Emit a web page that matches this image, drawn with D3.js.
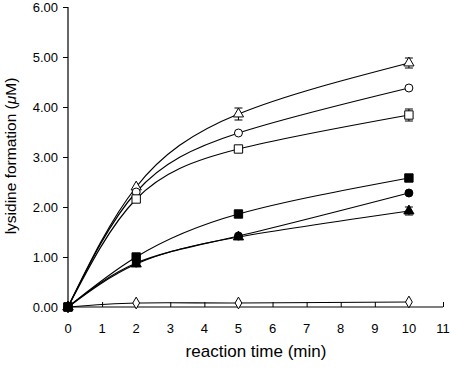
<!DOCTYPE html>
<html><head><meta charset="utf-8">
<script src="https://cdn.jsdelivr.net/npm/d3@7"></script>
<style>body{margin:0;background:#fff}svg{display:block}text{font-family:"Liberation Sans",Arial,sans-serif}</style>
</head><body><svg id="c" width="450" height="368"></svg>
<script>
const times = [0, 2, 5, 10];
const xTicks = [0,1,2,3,4,5,6,7,8,9,10,11];
const yTicks = [0,1,2,3,4,5,6];
const openTriangle = [0, 2.40, 3.86, 4.88];
const openTriangleErr = [0, 0.04, 0.12, 0.10];
const openCircle = [0, 2.30, 3.48, 4.38];
const openCircleErr = [0, 0.03, 0.04, 0.03];
const openSquare = [0, 2.16, 3.16, 3.84];
const openSquareErr = [0, 0.04, 0.04, 0.12];
const filledSquare = [0, 1.00, 1.86, 2.58];
const filledSquareErr = [0, 0.03, 0.03, 0.03];
const filledCircle = [0, 0.88, 1.42, 2.28];
const filledCircleErr = [0, 0.03, 0.03, 0.03];
const filledTriangle = [0, 0.86, 1.40, 1.92];
const filledTriangleErr = [0, 0.03, 0.04, 0.08];
const openDiamond = [0, 0.08, 0.08, 0.10];
const openDiamondErr = [0, 0.01, 0.01, 0.01];

const series = [
  {v: openDiamond, e: openDiamondErr, sym: d3.symbolDiamond, fill: "#fff", size: 40},
  {v: openTriangle, e: openTriangleErr, sym: d3.symbolTriangle, fill: "#fff", size: 45},
  {v: openCircle, e: openCircleErr, sym: d3.symbolCircle, fill: "#fff", size: 50},
  {v: openSquare, e: openSquareErr, sym: d3.symbolSquare, fill: "#fff", size: 70},
  {v: filledTriangle, e: filledTriangleErr, sym: d3.symbolTriangle, fill: "#000", size: 45},
  {v: filledCircle, e: filledCircleErr, sym: d3.symbolCircle, fill: "#000", size: 50},
  {v: filledSquare, e: filledSquareErr, sym: d3.symbolSquare, fill: "#000", size: 70}
];

const svg = d3.select("#c");
const x = d3.scaleLinear().domain([0, 11]).range([68, 443]);
const y = d3.scaleLinear().domain([0, 6]).range([307, 7]);

// x axis (ticks inward/up)
const xa = svg.append("g").attr("transform", `translate(0,${y(0)})`)
  .call(d3.axisTop(x).tickValues(xTicks).tickSize(5).tickFormat(""));
xa.select(".domain").attr("d", `M${x(0)},0H${x(11)}`).attr("stroke-width", 1.2);
xa.selectAll(".tick line").attr("stroke-width", 1);
svg.append("g").selectAll("text").data(xTicks).join("text")
  .attr("x", d => x(d)).attr("y", 333).attr("text-anchor", "middle")
  .attr("font-size", 13).text(d => d);

// y axis
const ya = svg.append("g").attr("transform", `translate(${x(0)},0)`)
  .call(d3.axisLeft(y).tickValues(yTicks).tickSize(5).tickPadding(5).tickFormat(d3.format(".2f")));
ya.select(".domain").attr("d", `M0,${y(6)}V${y(0)}`).attr("stroke-width", 1.2);
ya.selectAll(".tick text").attr("font-size", 13).attr("font-family", '"Liberation Sans",Arial,sans-serif').attr("fill", "#000");

// labels
svg.append("text").attr("x", 256).attr("y", 357).attr("text-anchor", "middle")
  .attr("font-size", 17).text("reaction time (min)");
const yl = svg.append("text").attr("transform", "translate(16,156) rotate(-90)")
  .attr("text-anchor", "middle").attr("font-size", 15.5);
yl.append("tspan").text("lysidine formation (");
yl.append("tspan").attr("font-style", "italic").text("μ");
yl.append("tspan").text("M)");

const line = d3.line().x((d, i) => x(times[i])).y(d => y(d)).curve(d3.curveNatural);
series.forEach(s => {
  svg.append("path").attr("d", line(s.v)).attr("fill", "none")
    .attr("stroke", "#000").attr("stroke-width", 1.2);
});
series.forEach(s => {
  const g = svg.append("g");
  times.forEach((t, i) => {
    if (s.e[i] > 0.05) {
      const cx = x(t), y1 = y(s.v[i] + s.e[i]), y2 = y(s.v[i] - s.e[i]);
      g.append("path").attr("d", `M${cx},${y1}V${y2}M${cx-4},${y1}H${cx+4}M${cx-4},${y2}H${cx+4}`)
        .attr("stroke", "#000").attr("stroke-width", 1).attr("fill", "none");
    }
  });
  g.selectAll("path.m").data(s.v).join("path").attr("class", "m")
    .attr("transform", (d, i) => `translate(${x(times[i])},${y(d)})`)
    .attr("d", d3.symbol().type(s.sym).size(s.size))
    .attr("fill", s.fill).attr("stroke", "#000").attr("stroke-width", 1);
});
</script></body></html>
